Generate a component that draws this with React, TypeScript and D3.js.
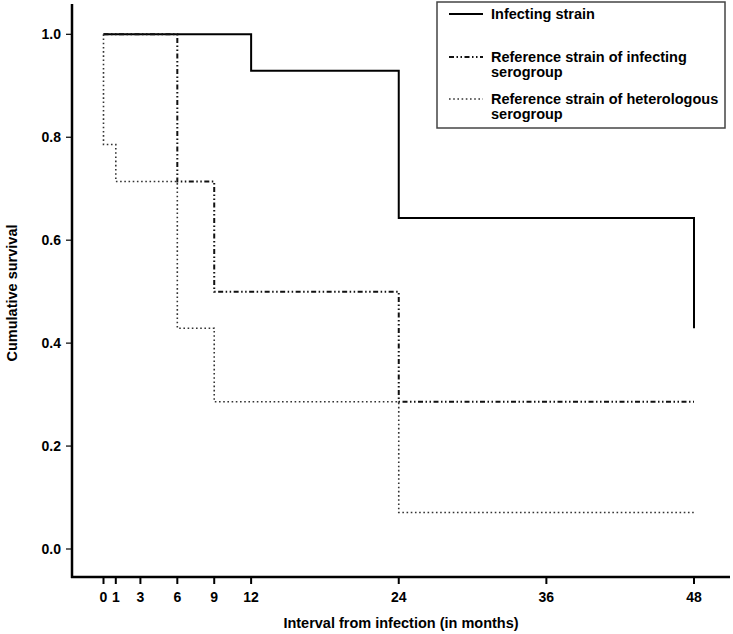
import React from "react";
import * as d3 from "d3";

type Pt = { t: number; s: number };

const infectingStrain: Pt[] = [
  { t: 0, s: 1.0 },
  { t: 12, s: 0.929 },
  { t: 24, s: 0.643 },
  { t: 48, s: 0.429 },
];
const refInfectingSerogroup: Pt[] = [
  { t: 0, s: 1.0 },
  { t: 6, s: 0.714 },
  { t: 9, s: 0.5 },
  { t: 24, s: 0.286 },
  { t: 48, s: 0.286 },
];
const refHeterologousSerogroup: Pt[] = [
  { t: 0, s: 1.0 },
  { t: 0, s: 0.786 },
  { t: 1, s: 0.714 },
  { t: 6, s: 0.429 },
  { t: 9, s: 0.286 },
  { t: 24, s: 0.071 },
  { t: 48, s: 0.071 },
];

const xTicks = [0, 1, 3, 6, 9, 12, 24, 36, 48];
const yTicks = [0, 0.2, 0.4, 0.6, 0.8, 1.0];

const seriesNames = [
  ["Infecting strain"],
  ["Reference strain of infecting", "serogroup"],
  ["Reference strain of heterologous", "serogroup"],
];

const FONT = "'Liberation Sans', Arial, sans-serif";

export default function App() {
  const W = 733;
  const H = 634;
  const x = d3.scaleLinear().domain([0, 48]).range([103.5, 694]);
  const y = d3.scaleLinear().domain([0, 1]).range([549, 34.3]);
  const axisX0 = 72;
  const axisY0 = 577;

  const line = d3
    .line<Pt>()
    .x((d) => x(d.t))
    .y((d) => y(d.s))
    .curve(d3.curveStepAfter);

  const styles = [
    { stroke: "#000", width: 2, dash: undefined as string | undefined },
    { stroke: "#111", width: 2, dash: "5,2.5,1.5,2.5,1.5,2.5" },
    { stroke: "#333", width: 1.6, dash: "1.6,2.6" },
  ];
  const data = [infectingStrain, refInfectingSerogroup, refHeterologousSerogroup];

  const legendRows = [14, 57, 99];

  return (
    <svg
      width={W}
      height={H}
      style={{ position: "absolute", left: 0, top: 0, background: "#fff" }}
      fontFamily={FONT}
    >
      {data.map((d, i) => (
        <path
          key={i}
          d={line(d) || ""}
          fill="none"
          stroke={styles[i].stroke}
          strokeWidth={styles[i].width}
          strokeDasharray={styles[i].dash}
        />
      ))}

      <line x1={axisX0} x2={axisX0} y1={4} y2={axisY0 + 1} stroke="#000" strokeWidth={2.5} />
      <line x1={axisX0 - 1} x2={730} y1={axisY0} y2={axisY0} stroke="#000" strokeWidth={2.5} />

      {yTicks.map((t) => (
        <g key={t}>
          <line x1={axisX0 - 6} x2={axisX0} y1={y(t)} y2={y(t)} stroke="#000" strokeWidth={1.2} />
          <text x={61} y={y(t)} dy="0.36em" textAnchor="end" fontSize={14} fontWeight="bold">
            {t.toFixed(1)}
          </text>
        </g>
      ))}

      {xTicks.map((t) => (
        <g key={t}>
          <line x1={x(t)} x2={x(t)} y1={axisY0} y2={axisY0 + 7} stroke="#000" strokeWidth={2} />
          <text x={x(t)} y={602} textAnchor="middle" fontSize={14} fontWeight="bold">
            {t}
          </text>
        </g>
      ))}

      <text x={401} y={628} textAnchor="middle" fontSize={14.5} fontWeight="bold">
        Interval from infection (in months)
      </text>
      <text
        transform={`translate(17,293) rotate(-90)`}
        textAnchor="middle"
        fontSize={14.5}
        fontWeight="bold"
      >
        Cumulative survival
      </text>

      <rect x={437} y={2} width={288} height={126} fill="#fff" stroke="#444" strokeWidth={1.5} />
      {seriesNames.map((names, i) => (
        <g key={i}>
          <line
            x1={449}
            x2={483}
            y1={legendRows[i]}
            y2={legendRows[i]}
            stroke={styles[i].stroke}
            strokeWidth={styles[i].width}
            strokeDasharray={styles[i].dash}
          />
          {names.map((n, j) => (
            <text
              key={j}
              x={491}
              y={legendRows[i] + j * 15}
              dy="0.36em"
              fontSize={14.5}
              fontWeight="bold"
            >
              {n}
            </text>
          ))}
        </g>
      ))}
    </svg>
  );
}
